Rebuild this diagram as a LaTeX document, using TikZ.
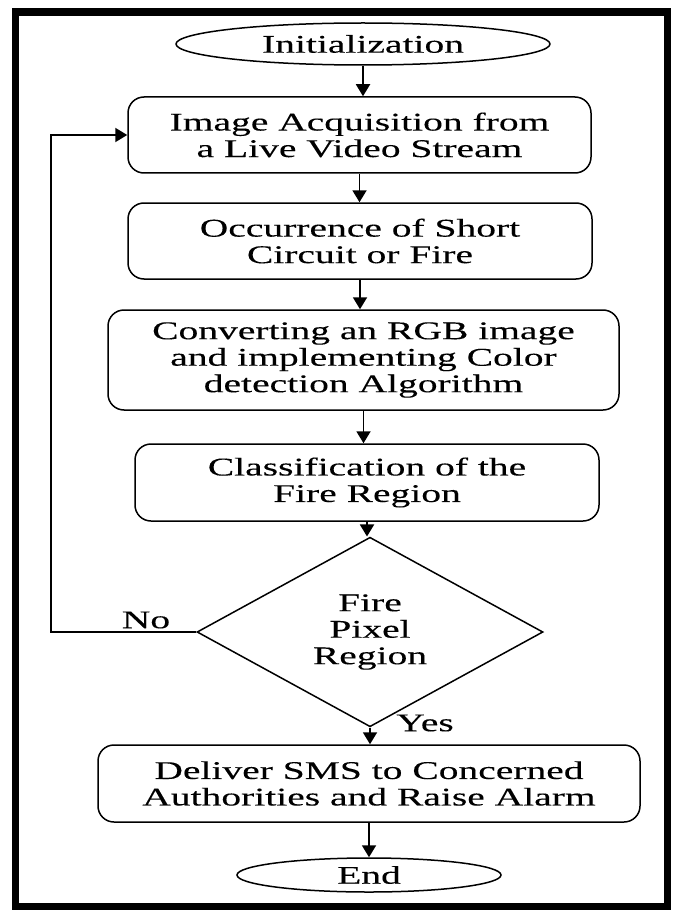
\documentclass[tikz,border=0pt]{standalone}
\usepackage{fontspec}
\setmainfont{Liberation Serif}[FakeStretch=1.55,FakeBold=0.2]
\usetikzlibrary{shapes.geometric,arrows.meta}
\begin{document}
\begin{tikzpicture}[x=1pt,y=-1pt,
  every node/.style={font=\fontsize{25.5}{26.5}\selectfont, align=center, inner sep=0pt},
  proc/.style={draw, line width=1.5pt, rounded corners=16pt, minimum height=76pt},
  term/.style={draw, ellipse, line width=1.5pt},
  dec/.style={draw, diamond, line width=1.5pt},
  lbl/.style={},
  arr/.style={line width=1.9pt, -{Triangle[length=12pt,width=14pt]}}]
\useasboundingbox (0,0) rectangle (678,912);
\fill[white] (0,0) rectangle (678,912);
\draw[line width=7.5pt] (15.5,12) rectangle (667.5,906.5);

\node[term, minimum width=374pt, minimum height=42pt] (init) at (363,44) {Initialization};
\node[proc, minimum width=463pt] (b1) at (359.5,135) {Image Acquisition from\\a Live Video Stream};
\node[proc, minimum width=464pt] (b2) at (360,241) {Occurrence of Short\\Circuit or Fire};
\node[proc, minimum width=511pt, minimum height=100pt] (b3) at (363.5,360) {Converting an RGB image\\and implementing Color\\detection Algorithm};
\node[proc, minimum width=464pt, minimum height=77pt] (b4) at (367,482.5) {Classification of the\\Fire Region};
\node[dec, minimum width=346pt, minimum height=165pt] (dia) at (370,632) {Fire\\Pixel\\Region};
\node[proc, minimum width=542pt, minimum height=77pt] (b5) at (369,783.5) {Deliver SMS to Concerned\\Authorities and Raise Alarm};
\node[term, minimum width=264pt, minimum height=34pt] (end) at (369,875) {End};

\coordinate (fb) at (51,632);
\node[lbl] (no) at (146,620) {No};
\node[lbl] (yes) at (425,723) {Yes};

\draw[arr] (init) -- (init |- b1.north);
\draw[arr] (b1) -- (b1 |- b2.north);
\draw[arr] (b2) -- (b2 |- b3.north);
\draw[arr] (b3) -- (b3 |- b4.north);
\draw[arr] (b4) -- (b4 |- dia.north);
\draw[arr] (dia) -- (dia |- b5.north);
\draw[arr] (b5) -- (b5 |- end.north);
\draw[arr] (dia.west) -- (fb) |- (b1.west);
\end{tikzpicture}
\end{document}
